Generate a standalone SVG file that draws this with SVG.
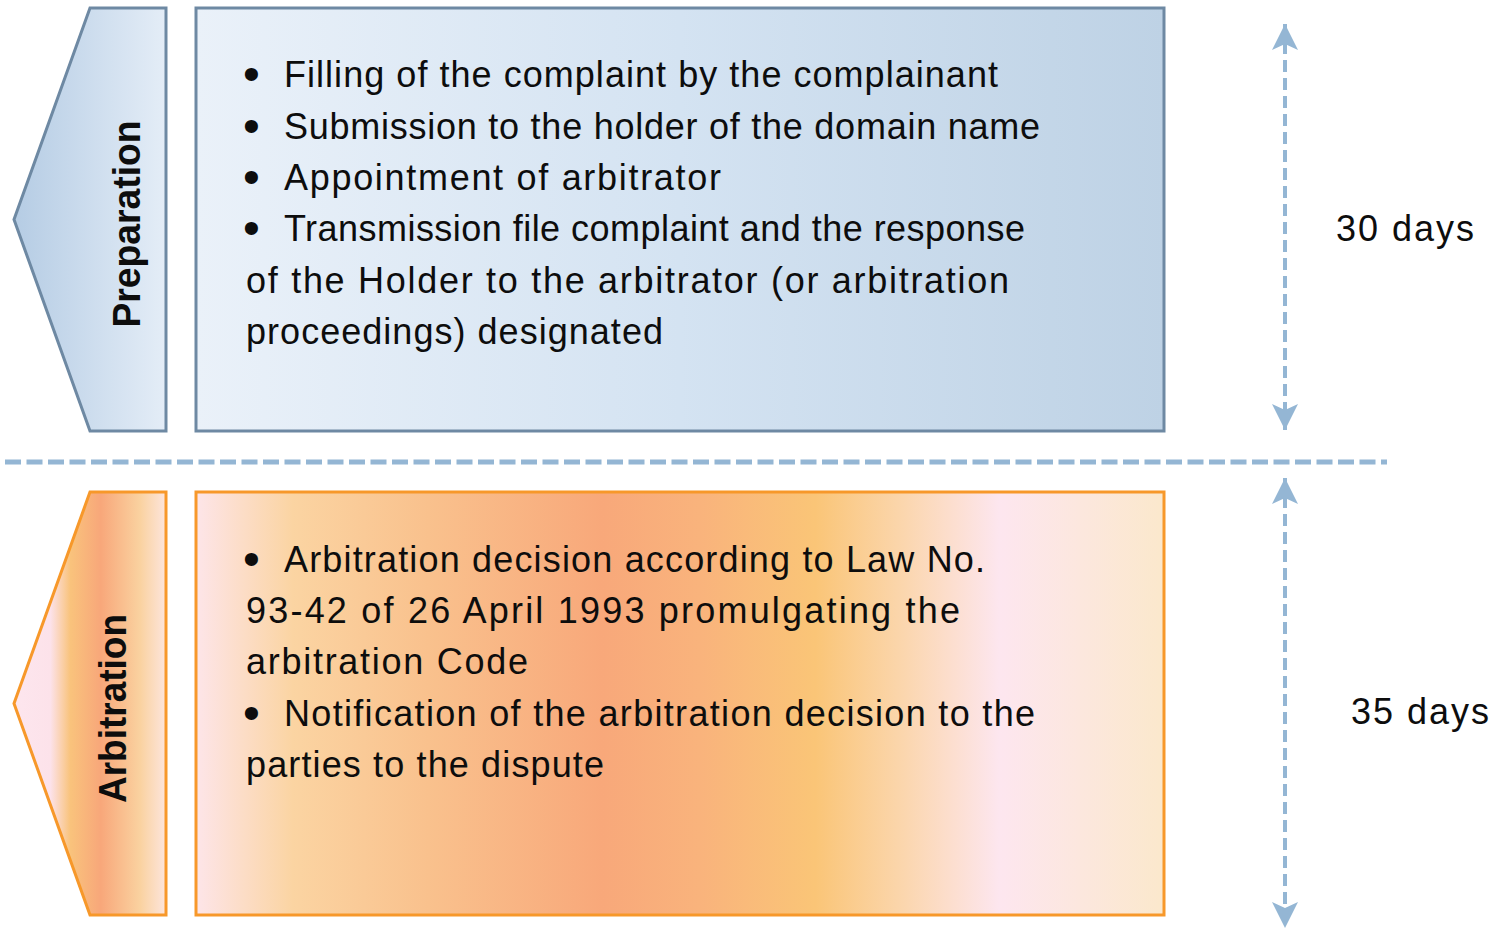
<svg xmlns="http://www.w3.org/2000/svg" width="1495" height="929" viewBox="0 0 1495 929">
<style>
.t{font-family:"Liberation Sans",Arial,sans-serif;font-size:36px;fill:#0d0d0d}
.b{font-family:"Liberation Sans",Arial,sans-serif;font-size:48px;fill:#0d0d0d}
.v{font-family:"Liberation Sans",Arial,sans-serif;font-size:38px;font-weight:bold;fill:#0d0d0d}
.prep{stroke:#6e89a3;stroke-width:3}
.arb{stroke:#f7982a;stroke-width:3}
.dash{stroke:#94b6d4;fill:none}
</style>
<defs>
<linearGradient id="gPrepBox" x1="0" y1="0" x2="1" y2="0">
<stop offset="0" stop-color="#eaf1f9"/>
<stop offset="0.5" stop-color="#d4e3f2"/>
<stop offset="1" stop-color="#bed2e5"/>
</linearGradient>
<linearGradient id="gPrepChev" x1="0" y1="0" x2="1" y2="0">
<stop offset="0" stop-color="#b5cce4"/>
<stop offset="1" stop-color="#e4edf7"/>
</linearGradient>
<linearGradient id="gArbBox" x1="0" y1="0" x2="1" y2="0">
<stop offset="0" stop-color="#fde5e9"/>
<stop offset="0.1" stop-color="#fbd4a2"/>
<stop offset="0.24" stop-color="#f9c18d"/>
<stop offset="0.42" stop-color="#f8a87a"/>
<stop offset="0.52" stop-color="#f9b37c"/>
<stop offset="0.64" stop-color="#fac577"/>
<stop offset="0.73" stop-color="#fbd6ad"/>
<stop offset="0.83" stop-color="#fde6ef"/>
<stop offset="1" stop-color="#fbe8cc"/>
</linearGradient>
<linearGradient id="gArbChev" x1="0" y1="0" x2="1" y2="0">
<stop offset="0" stop-color="#fde6ee"/>
<stop offset="0.24" stop-color="#fce2ea"/>
<stop offset="0.37" stop-color="#f9c37c"/>
<stop offset="0.57" stop-color="#f8a77a"/>
<stop offset="0.83" stop-color="#fad2a0"/>
<stop offset="1" stop-color="#fde5dd"/>
</linearGradient>
<marker id="ah" viewBox="0 0 26 26" refX="26" refY="13" markerWidth="26" markerHeight="26" markerUnits="userSpaceOnUse" orient="auto-start-reverse">
<path d="M0,0 L26,13 L0,26 L6,13 Z" fill="#94b6d4"/>
</marker>
</defs>

<g id="connectors">
<line class="dash" x1="5" y1="462" x2="1387" y2="462" stroke-width="5" stroke-dasharray="16 5.5"/>
<line class="dash" x1="1285" y1="24" x2="1285" y2="430" stroke-width="4" stroke-dasharray="12 6" marker-start="url(#ah)" marker-end="url(#ah)"/>
<line class="dash" x1="1285" y1="478" x2="1285" y2="928" stroke-width="4" stroke-dasharray="12 6" marker-start="url(#ah)" marker-end="url(#ah)"/>
</g>

<g id="preparation-label">
<polygon class="prep" points="90,8 166,8 166,431 90,431 14,219.5" fill="url(#gPrepChev)"/>
<text class="v" transform="translate(140,224) rotate(-90)" text-anchor="middle" textLength="207" lengthAdjust="spacingAndGlyphs">Preparation</text>
</g>

<g id="preparation-box">
<rect class="prep" x="196" y="8" width="968" height="423" fill="url(#gPrepBox)"/>
<text class="b" x="243" y="90">•</text>
<text class="t" x="284" y="87" textLength="714">Filling of the complaint by the complainant</text>
<text class="b" x="243" y="142">•</text>
<text class="t" x="284" y="139" textLength="756">Submission to the holder of the domain name</text>
<text class="b" x="243" y="193">•</text>
<text class="t" x="284" y="190" textLength="437">Appointment of arbitrator</text>
<text class="b" x="243" y="244">•</text>
<text class="t" x="284" y="241" textLength="741">Transmission file complaint and the response</text>
<text class="t" x="246" y="293" textLength="763">of the Holder to the arbitrator (or arbitration</text>
<text class="t" x="246" y="344" textLength="417">proceedings) designated</text>
</g>

<g id="arbitration-label">
<polygon class="arb" points="90,492 166,492 166,915 90,915 14,703.5" fill="url(#gArbChev)"/>
<text class="v" transform="translate(126,708.5) rotate(-90)" text-anchor="middle" textLength="189" lengthAdjust="spacingAndGlyphs">Arbitration</text>
</g>

<g id="arbitration-box">
<rect class="arb" x="196" y="492" width="968" height="423" fill="url(#gArbBox)"/>
<text class="b" x="243" y="575">•</text>
<text class="t" x="284" y="572" textLength="701">Arbitration decision according to Law No.</text>
<text class="t" x="246" y="623" textLength="714">93-42 of 26 April 1993 promulgating the</text>
<text class="t" x="246" y="674" textLength="282">arbitration Code</text>
<text class="b" x="243" y="729">•</text>
<text class="t" x="284" y="726" textLength="751">Notification of the arbitration decision to the</text>
<text class="t" x="246" y="777" textLength="358">parties to the dispute</text>
</g>

<g id="duration-30">
<text class="t" x="1336" y="241" textLength="138">30 days</text>
</g>
<g id="duration-35">
<text class="t" x="1351" y="724" textLength="138">35 days</text>
</g>
</svg>
